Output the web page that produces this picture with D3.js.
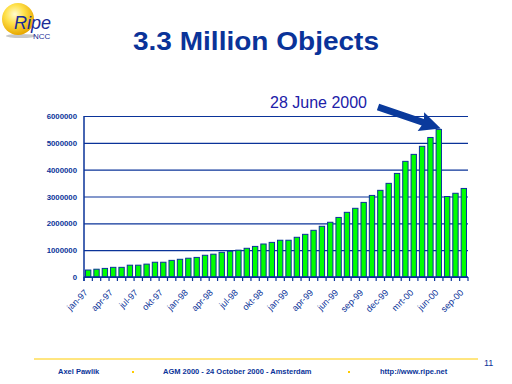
<!DOCTYPE html>
<html>
<head>
<meta charset="utf-8">
<script src="https://cdn.jsdelivr.net/npm/d3@7"></script>
<style>
  body { margin: 0; background: #fff; }
  svg { display: block; }
  text { font-family: Arial, "Liberation Sans", sans-serif; }
</style>
</head>
<body>
<div id="chart"></div>
<script>
// month labels (dutch), one bar per entry; mei-99 appears twice in the source
var months = ['jan-97','feb-97','mrt-97','apr-97','mei-97','jun-97','jul-97','aug-97','sep-97','okt-97','nov-97','dec-97',
              'jan-98','feb-98','mrt-98','apr-98','mei-98','jun-98','jul-98','aug-98','sep-98','okt-98','nov-98','dec-98',
              'jan-99','feb-99','mrt-99','apr-99','mei-99','mei-99','jun-99','jul-99','aug-99','sep-99','okt-99','nov-99','dec-99',
              'jan-00','feb-00','mrt-00','apr-00','mei-00','jun-00','jul-00','aug-00','sep-00'];

// number of objects in the database
var objects = [260000, 290000, 320000, 360000, 360000, 440000, 440000, 480000, 550000, 550000, 620000, 660000,
               700000, 730000, 810000, 850000, 920000, 960000, 1000000, 1070000, 1140000, 1230000, 1290000, 1370000,
               1370000, 1480000, 1590000, 1740000, 1890000, 2040000, 2220000, 2410000, 2560000, 2780000, 3040000, 3230000, 3490000,
               3860000, 4310000, 4570000, 4870000, 5200000, 5500000, 3000000, 3120000, 3300000];

var yTicks = [0, 1000000, 2000000, 3000000, 4000000, 5000000, 6000000];
var PEAK = 42; // 28 June 2000

var W = 512, H = 384;
var NAVY = '#0a3399';
var plot = {left: 84, right: 468, top: 116, bottom: 277};

var svg = d3.select('#chart').append('svg')
            .attr('width', W)
            .attr('height', H);

// --- logo ---
var defs = svg.append('defs');
var grad = defs.append('radialGradient')
               .attr('id', 'ball')
               .attr('cx', '40%').attr('cy', '35%').attr('r', '65%');
grad.append('stop').attr('offset', '0%').attr('stop-color', '#fffbd0');
grad.append('stop').attr('offset', '45%').attr('stop-color', '#ffe14a');
grad.append('stop').attr('offset', '100%').attr('stop-color', '#e8a800');

svg.append('ellipse')
   .attr('cx', 21).attr('cy', 36).attr('rx', 15).attr('ry', 2)
   .attr('fill', '#c8c8c8');
svg.append('circle')
   .attr('cx', 18).attr('cy', 19).attr('r', 16)
   .attr('fill', 'url(#ball)');
svg.append('text')
   .attr('x', 14).attr('y', 29)
   .attr('font-size', 18)
   .attr('font-style', 'italic')
   .attr('fill', '#1a2c96')
   .text('Ripe');
svg.append('text')
   .attr('x', 33).attr('y', 38.5)
   .attr('font-size', 8)
   .attr('fill', '#1a2c96')
   .text('NCC');

// --- title ---
svg.append('text')
   .attr('x', 256).attr('y', 50)
   .attr('text-anchor', 'middle')
   .attr('font-size', 26)
   .attr('font-weight', 'bold')
   .attr('textLength', 246)
   .attr('lengthAdjust', 'spacingAndGlyphs')
   .attr('fill', NAVY)
   .text('3.3 Million Objects');

// --- scales ---
var x = d3.scaleBand()
          .domain(d3.range(months.length))
          .range([plot.left, plot.right])
          .paddingInner(0.36)
          .paddingOuter(0.18);

var y = d3.scaleLinear()
          .domain([0, 6000000])
          .range([plot.bottom, plot.top]);

// gridlines + y labels
var yAxis = svg.append('g')
               .attr('transform', `translate(${plot.left},0)`)
               .call(d3.axisLeft(y)
                       .tickValues(yTicks)
                       .tickSize(-(plot.right - plot.left))
                       .tickPadding(7)
                       .tickFormat(d3.format('d')));
yAxis.select('.domain').remove();
yAxis.selectAll('line')
     .attr('stroke', NAVY)
     .attr('stroke-width', 1.2);
yAxis.selectAll('text')
     .attr('font-size', 7.8)
     .attr('font-weight', 'bold')
     .attr('fill', NAVY);

// bars
svg.selectAll('.bar')
   .data(objects).enter()
   .append('rect')
   .attr('class', 'bar')
   .attr('x', (d, i) => x(i))
   .attr('y', d => y(d))
   .attr('width', x.bandwidth())
   .attr('height', d => y(0) - y(d))
   .attr('fill', '#00ff00')
   .attr('stroke', NAVY)
   .attr('stroke-width', 1);

// axes lines
var step = x.step();
svg.append('line')
   .attr('x1', plot.left).attr('x2', plot.left)
   .attr('y1', plot.top).attr('y2', plot.bottom + 4)
   .attr('stroke', NAVY).attr('stroke-width', 1.5);
svg.append('line')
   .attr('x1', plot.left).attr('x2', plot.right)
   .attr('y1', plot.bottom).attr('y2', plot.bottom)
   .attr('stroke', NAVY).attr('stroke-width', 1.5);

// category boundary ticks
svg.selectAll('.xtick')
   .data(d3.range(months.length + 1)).enter()
   .append('line')
   .attr('class', 'xtick')
   .attr('x1', i => plot.left + i * step)
   .attr('x2', i => plot.left + i * step)
   .attr('y1', plot.bottom)
   .attr('y2', plot.bottom + 4)
   .attr('stroke', NAVY)
   .attr('stroke-width', 1.2);

// x labels, every third month
svg.selectAll('.xlabel')
   .data(months.map((m, i) => ({m: m, i: i})).filter(d => d.i % 3 === 0)).enter()
   .append('text')
   .attr('class', 'xlabel')
   .attr('transform', d => `translate(${x(d.i) + x.bandwidth() / 2 - 2},${plot.bottom + 14}) rotate(-45)`)
   .attr('text-anchor', 'end')
   .attr('dy', '0.35em')
   .attr('font-size', 9)
   .attr('fill', NAVY)
   .text(d => d.m);

// --- annotation ---
svg.append('text')
   .attr('x', 270).attr('y', 108)
   .attr('font-size', 16)
   .attr('fill', '#2020a8')
   .text('28 June 2000');

var tipX = x(PEAK) + x.bandwidth() / 2 + 2,
    tipY = y(objects[PEAK]) - 1;
var tailX = 378, tailY = 107;
var ang = Math.atan2(tipY - tailY, tipX - tailX) * 180 / Math.PI;
var len = Math.hypot(tipX - tailX, tipY - tailY);
var hl = 19;
svg.append('polygon')
   .attr('transform', `translate(${tailX},${tailY}) rotate(${ang})`)
   .attr('points', [[0, -3.5], [len - hl, -3.5], [len - hl - 2, -10], [len, 0],
                    [len - hl - 2, 10], [len - hl, 3.5], [0, 3.5]].map(p => p.join(',')).join(' '))
   .attr('fill', '#0a3a9c');

// --- footer ---
svg.append('line')
   .attr('x1', 34).attr('x2', 478)
   .attr('y1', 359).attr('y2', 359)
   .attr('stroke', '#ffcc00').attr('stroke-width', 1);
svg.append('text')
   .attr('x', 484).attr('y', 366)
   .attr('font-size', 9)
   .attr('fill', NAVY)
   .text('11');

var footer = [
  {t: 'Axel Pawlik', x: 58},
  {t: 'AGM 2000 - 24 October 2000 - Amsterdam', x: 163},
  {t: 'http://www.ripe.net', x: 380}
];
svg.selectAll('.foot')
   .data(footer).enter()
   .append('text')
   .attr('class', 'foot')
   .attr('x', d => d.x).attr('y', 374)
   .attr('font-size', 7.5)
   .attr('font-weight', 'bold')
   .attr('fill', NAVY)
   .text(d => d.t);
svg.selectAll('.dot')
   .data([132, 348]).enter()
   .append('rect')
   .attr('x', d => d).attr('y', 371)
   .attr('width', 2).attr('height', 2)
   .attr('fill', '#ffcc00');
</script>
</body>
</html>
